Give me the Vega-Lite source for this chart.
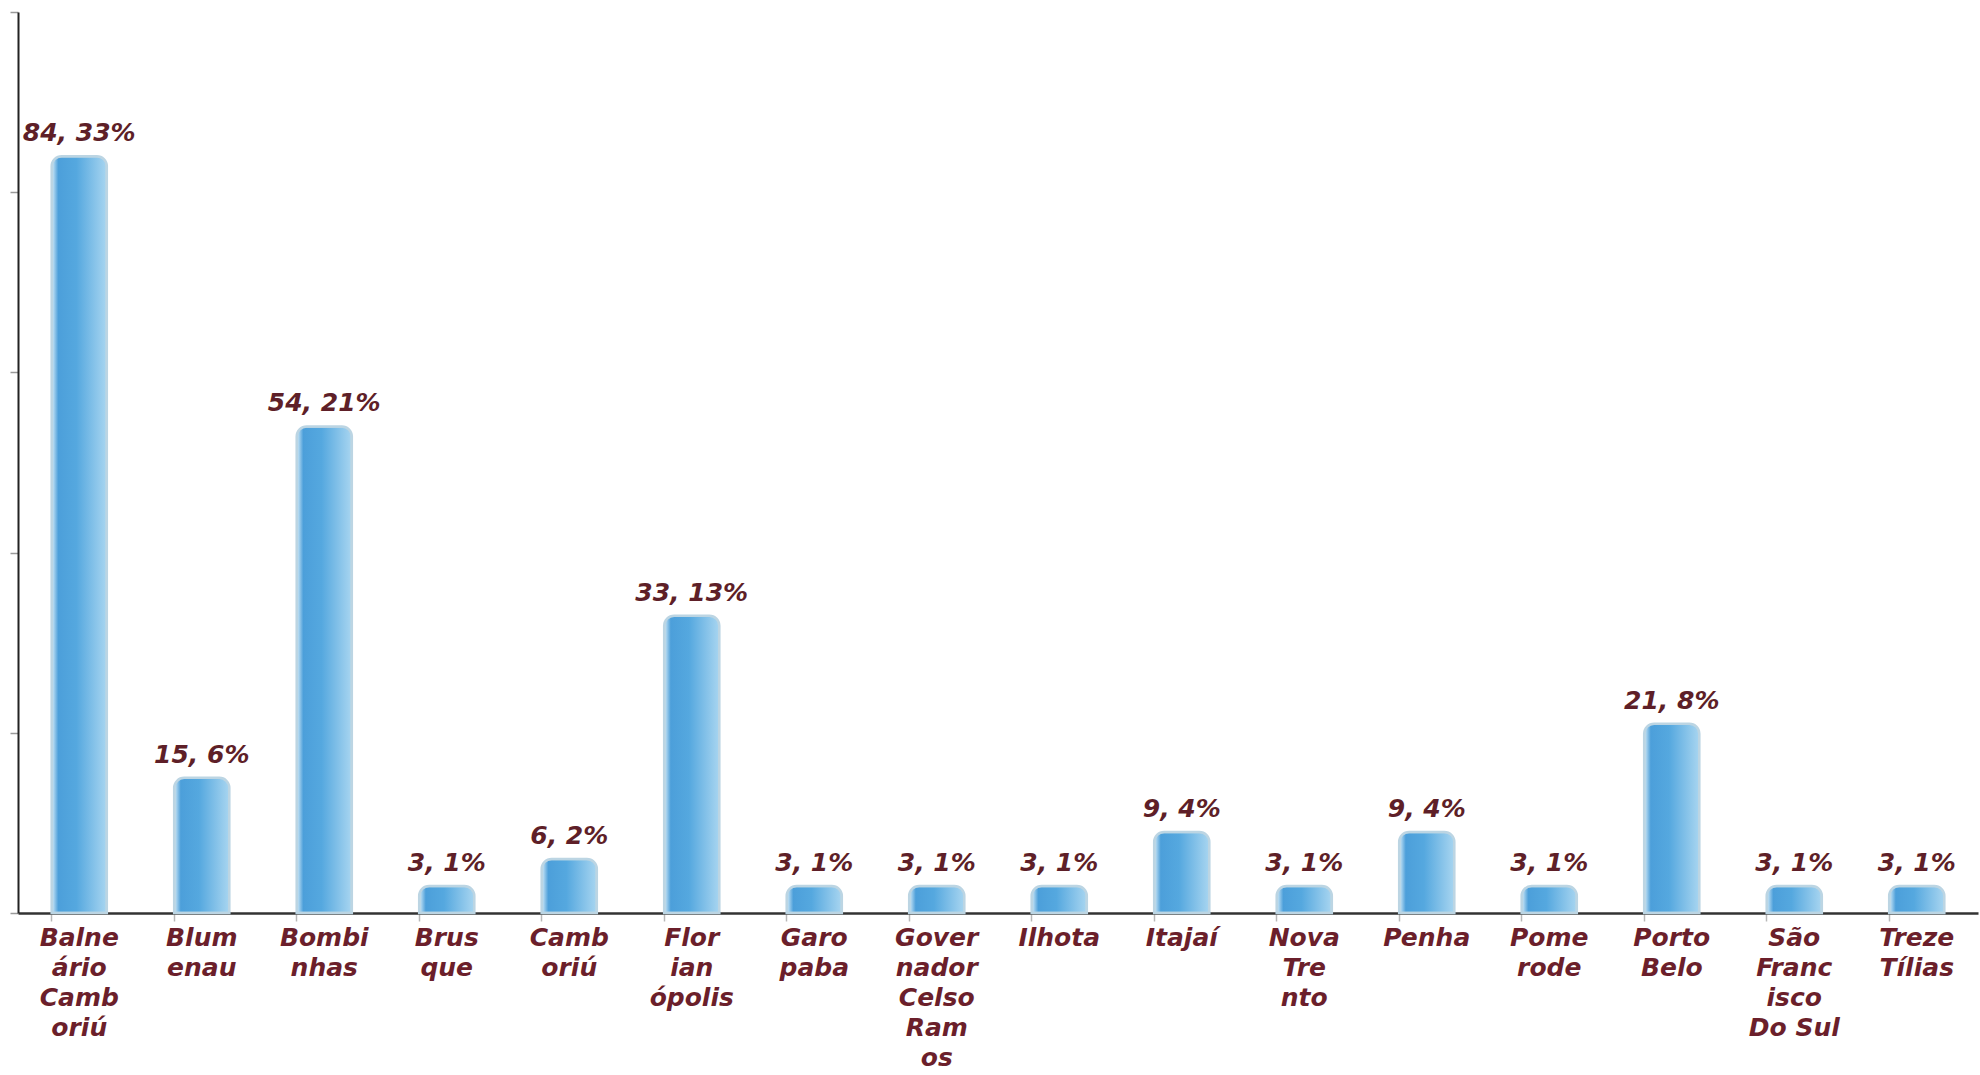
{
  "$schema": "https://vega.github.io/schema/vega-lite/v6.json",
  "autosize": {"type": "none"},
  "padding": {"left": 18, "top": 12, "right": 2, "bottom": 162},
  "width": 1960,
  "height": 901,
  "background": "white",
  "config": {"view": {"stroke": null}},
  "data": {
    "values": [
      {"municipio": "Balne|ário|Camb|oriú", "n": 84, "pct": 33},
      {"municipio": "Blum|enau", "n": 15, "pct": 6},
      {"municipio": "Bombi|nhas", "n": 54, "pct": 21},
      {"municipio": "Brus|que", "n": 3, "pct": 1},
      {"municipio": "Camb|oriú", "n": 6, "pct": 2},
      {"municipio": "Flor|ian|ópolis", "n": 33, "pct": 13},
      {"municipio": "Garo|paba", "n": 3, "pct": 1},
      {"municipio": "Gover|nador|Celso|Ram|os", "n": 3, "pct": 1},
      {"municipio": "Ilhota", "n": 3, "pct": 1},
      {"municipio": "Itajaí", "n": 9, "pct": 4},
      {"municipio": "Nova|Tre|nto", "n": 3, "pct": 1},
      {"municipio": "Penha", "n": 9, "pct": 4},
      {"municipio": "Pome|rode", "n": 3, "pct": 1},
      {"municipio": "Porto|Belo", "n": 21, "pct": 8},
      {"municipio": "São|Franc|isco|Do Sul", "n": 3, "pct": 1},
      {"municipio": "Treze|Tílias", "n": 3, "pct": 1}
    ]
  },
  "transform": [
    {"calculate": "datum.n + ', ' + datum.pct + '%'", "as": "rotulo"}
  ],
  "encoding": {
    "x": {
      "field": "municipio",
      "type": "nominal",
      "sort": null,
      "title": null,
      "scale": {"paddingInner": 0.55, "paddingOuter": 0.275},
      "axis": {
        "labelAngle": 0,
        "labelExpr": "split(datum.value, '|')",
        "labelFont": "DejaVu Sans",
        "labelFontSize": 25,
        "labelFontWeight": "bold",
        "labelFontStyle": "italic",
        "labelColor": "#6b1f2b",
        "labelLineHeight": 30,
        "labelPadding": 4,
        "labelBaseline": "top",
        "bandPosition": 0,
        "tickSize": 8,
        "tickColor": "#b8b8b8",
        "tickWidth": 1.5,
        "domainColor": "#333333",
        "domainWidth": 2.5
      }
    },
    "y": {
      "field": "n",
      "type": "quantitative",
      "title": null,
      "scale": {"domain": [0, 100], "nice": false},
      "axis": {
        "values": [0, 20, 40, 60, 80, 100],
        "labels": false,
        "grid": false,
        "tickSize": 8,
        "tickColor": "#999999",
        "tickWidth": 1.5,
        "domainColor": "#222222",
        "domainWidth": 2
      }
    }
  },
  "layer": [
    {
      "mark": {
        "type": "bar",
        "cornerRadiusTopLeft": 10,
        "cornerRadiusTopRight": 10,
        "stroke": "#bcd5e3",
        "strokeWidth": 2.5,
        "color": {
          "gradient": "linear",
          "x1": 0, "x2": 1, "y1": 0, "y2": 0,
          "stops": [
            {"offset": 0, "color": "#d6ecf8"},
            {"offset": 0.12, "color": "#4c9fda"},
            {"offset": 0.45, "color": "#55a8df"},
            {"offset": 1, "color": "#a8d5f0"}
          ]
        }
      }
    },
    {
      "mark": {
        "type": "text",
        "baseline": "bottom",
        "dy": -10,
        "font": "DejaVu Sans",
        "fontSize": 25,
        "fontWeight": "bold",
        "fontStyle": "italic",
        "color": "#5e1f28"
      },
      "encoding": {"text": {"field": "rotulo"}}
    }
  ]
}
